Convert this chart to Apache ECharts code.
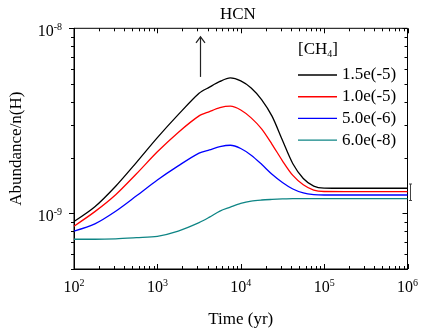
<!DOCTYPE html>
<html><head><meta charset="utf-8">
<script src="https://cdn.jsdelivr.net/npm/echarts@6/dist/echarts.min.js"></script>
<style>html,body{margin:0;padding:0;background:#fff}#c{width:421px;height:333px}</style>
</head><body><div id="c"></div>
<script>
// ---- data ----
const times = [100, 178, 316, 562, 1000, 1778, 3162, 4217, 5623, 7499, 10000, 13335, 17783, 23714, 31623, 42170, 56234, 74989, 100000, 177828, 1000000];
const seriesNames = ['1.5e(-5)', '1.0e(-5)', '5.0e(-6)', '6.0e(-8)'];
const ch4_1p5e5 = [9.03e-10, 1.085e-9, 1.40e-9, 1.885e-9, 2.564e-9, 3.413e-9, 4.457e-9, 4.809e-9, 5.16e-9, 5.39e-9, 5.2e-9, 4.76e-9, 4.12e-9, 3.35e-9, 2.481e-9, 1.853e-9, 1.543e-9, 1.404e-9, 1.369e-9, 1.366e-9, 1.366e-9];
const ch4_1p0e5 = [8.52e-10, 1.021e-9, 1.26e-9, 1.636e-9, 2.15e-9, 2.737e-9, 3.363e-9, 3.548e-9, 3.725e-9, 3.793e-9, 3.62e-9, 3.28e-9, 2.859e-9, 2.361e-9, 1.923e-9, 1.602e-9, 1.426e-9, 1.335e-9, 1.312e-9, 1.31e-9, 1.31e-9];
const ch4_5p0e6 = [8.02e-10, 8.77e-10, 1.026e-9, 1.243e-9, 1.514e-9, 1.804e-9, 2.115e-9, 2.201e-9, 2.291e-9, 2.333e-9, 2.24e-9, 2.06e-9, 1.84e-9, 1.626e-9, 1.468e-9, 1.353e-9, 1.288e-9, 1.262e-9, 1.256e-9, 1.256e-9, 1.256e-9];
const ch4_6p0e8 = [7.24e-10, 7.24e-10, 7.28e-10, 7.385e-10, 7.51e-10, 8.01e-10, 8.90e-10, 9.53e-10, 1.028e-9, 1.079e-9, 1.130e-9, 1.164e-9, 1.18e-9, 1.189e-9, 1.196e-9, 1.2e-9, 1.2e-9, 1.2e-9, 1.2e-9, 1.2e-9, 1.2e-9];
const xMin = 100, xMax = 1e6;
const yMin = 5e-10, yMax = 1e-8;
const arrowTime = 3250, arrowFrom = 5.46e-9, arrowTo = 9.0e-9;

const colors = ['#000000', '#ff0000', '#0000ff', '#0e8585'];
const allValues = [ch4_1p5e5, ch4_1p0e5, ch4_5p0e6, ch4_6p0e8];
const FONT = '"Liberation Serif", "Times New Roman", serif';

const chart = echarts.init(document.getElementById('c'), null, {renderer: 'canvas'});

function powLabel(v) {
  const l = Math.log10(v);
  const e = Math.round(l);
  if (Math.abs(l - e) > 1e-6) return '';
  return '{b|10}{s|' + e + '}';
}
const rich = {
  b: {fontSize: 16, fontFamily: FONT, color: '#000'},
  s: {fontSize: 10, fontFamily: FONT, color: '#000', padding: [0, 0, 9, 0]}
};

const series = allValues.map((vals, i) => ({
  name: seriesNames[i],
  type: 'line',
  data: times.map((t, k) => [t, vals[k]]),
  showSymbol: false,
  symbol: 'none',
  smooth: 0.3,
  color: colors[i],
  lineStyle: {width: 1.3, color: colors[i]},
  z: 10 - i
}));

chart.setOption({
  animation: false,
  backgroundColor: '#fff',
  title: {text: 'HCN', left: 215, top: 1.5, textStyle: {fontFamily: FONT, fontSize: 17, fontWeight: 'normal', color: '#000'}},
  grid: {left: 72.7, right: 11.7, top: 28.3, bottom: 58, show: true, borderColor: '#000', borderWidth: 1, backgroundColor: 'transparent'},
  legend: {
    orient: 'vertical', left: 298, top: 66.5, padding: 0, itemGap: 4.7,
    itemWidth: 39, itemHeight: 1.4, icon: 'rect',
    data: seriesNames,
    textStyle: {fontFamily: FONT, fontSize: 17, color: '#000', lineHeight: 17, padding: [0, 0, 0, 0]}
  },
  xAxis: {
    type: 'log', logBase: 10, min: xMin, max: xMax,
    name: 'Time (yr)', nameLocation: 'middle', nameGap: 42,
    nameTextStyle: {fontFamily: FONT, fontSize: 17, color: '#000'},
    axisLine: {lineStyle: {color: '#000', width: 1}},
    axisTick: {show: false}, splitLine: {show: false},
    axisLabel: {formatter: powLabel, rich: rich, margin: 9, color: '#000', showMinLabel: true, showMaxLabel: true}
  },
  yAxis: {
    type: 'log', logBase: 10, min: yMin, max: yMax,
    name: 'Abundance/n(H)', nameLocation: 'middle', nameGap: 49,
    nameTextStyle: {fontFamily: FONT, fontSize: 17, color: '#000'},
    axisLine: {lineStyle: {color: '#000', width: 1}},
    axisTick: {show: false}, splitLine: {show: false},
    axisLabel: {formatter: powLabel, rich: rich, margin: 12, padding: [7, 0, 0, 0], color: '#000', showMinLabel: true, showMaxLabel: true}
  },
  series: series
});

// ---- ticks, legend title, arrow, drawn from the axes' scales ----
function px(t, v) { return chart.convertToPixel({gridIndex: 0}, [t, v]); }
const g = [];
const tickStyle = {stroke: '#000', lineWidth: 1};
const pLB = px(xMin, yMin), pRT = px(xMax, yMax);
const gLeft = pLB[0], gBottom = pLB[1], gRight = pRT[0], gTop = pRT[1];
for (let d = 2; d <= 6; d++) {
  for (let m = 1; m <= 9; m++) {
    const t = m * Math.pow(10, d);
    if (t > xMax * 1.0001) break;
    const x = Math.round(px(t, yMin)[0]) + 0.5;
    const L = m === 1 ? 5 : 3;
    g.push({type: 'line', shape: {x1: x, y1: gBottom, x2: x, y2: gBottom - L}, style: tickStyle, silent: true});
    g.push({type: 'line', shape: {x1: x, y1: gTop, x2: x, y2: gTop + L}, style: tickStyle, silent: true});
  }
}
for (let d = -10; d <= -8; d++) {
  for (let m = 1; m <= 9; m++) {
    const v = m * Math.pow(10, d);
    if (v < yMin * 0.9999 || v > yMax * 1.0001) continue;
    const y = Math.round(px(xMin, v)[1]) + 0.5;
    const L = m === 1 ? 5 : 3;
    g.push({type: 'line', shape: {x1: gLeft, y1: y, x2: gLeft - L, y2: y}, style: tickStyle, silent: true});
    g.push({type: 'line', shape: {x1: gRight, y1: y, x2: gRight - L, y2: y}, style: tickStyle, silent: true});
  }
}
// legend title [CH4]
g.push({type: 'text', x: 298, y: 39.5, style: {
  text: '{a|[CH}{u|4}{a|]}',
  rich: {a: {fontFamily: FONT, fontSize: 17, fill: '#000'}, u: {fontFamily: FONT, fontSize: 10, fill: '#000', padding: [10, 0, 0, 0]}}
}});
// arrow
const a0 = px(arrowTime, arrowFrom), a1 = px(arrowTime, arrowTo);
const ax = Math.round(a0[0]) + 0.5;
g.push({type: 'line', shape: {x1: ax, y1: a0[1], x2: ax, y2: a1[1]}, style: {stroke: '#222', lineWidth: 1.2}});
g.push({type: 'polyline', shape: {points: [[ax - 4.5, a1[1] + 6], [ax, a1[1]], [ax + 4.5, a1[1] + 6]]}, style: {stroke: '#222', lineWidth: 1.2, fill: null}});
// small bracket mark at the right edge
const bx = gRight + 3;
g.push({type: 'polyline', shape: {points: [[bx - 1.5, 184], [bx + 1.5, 184]]}, style: {stroke: '#444', lineWidth: 1}});
g.push({type: 'line', shape: {x1: bx, y1: 184, x2: bx, y2: 200.5}, style: {stroke: '#444', lineWidth: 1}});
g.push({type: 'polyline', shape: {points: [[bx - 1.5, 200.5], [bx + 1.5, 200.5]]}, style: {stroke: '#444', lineWidth: 1}});
chart.setOption({graphic: g});
</script>
</body></html>
